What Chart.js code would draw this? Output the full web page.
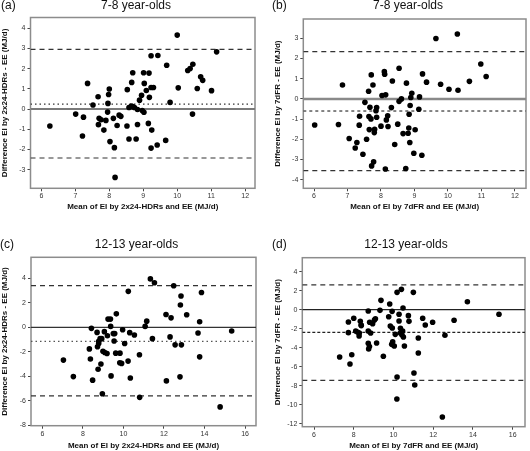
<!DOCTYPE html>
<html>
<head>
<meta charset="utf-8">
<script src="https://cdn.jsdelivr.net/npm/chart.js@4.4.1/dist/chart.umd.min.js"></script>
<style>
  html, body { margin: 0; padding: 0; background: #fff; }
  #wrap { position: relative; width: 530px; height: 451px; }
  canvas { position: absolute; }
</style>
</head>
<body>
<div id="wrap">
  <canvas id="chartA" width="265" height="225" style="left:0;top:0;width:265px;height:225px"></canvas>
  <canvas id="chartB" width="265" height="225" style="left:265px;top:0;width:265px;height:225px"></canvas>
  <canvas id="chartC" width="265" height="226" style="left:0;top:225px;width:265px;height:226px"></canvas>
  <canvas id="chartD" width="265" height="226" style="left:265px;top:225px;width:265px;height:226px"></canvas>
</div>
<script>
// ===== DATA =====
// (a) 7-8 year-olds, 2x24-HDRs
const aMean = [6.25,7.01,7.24,7.21,7.36,7.52,7.67,7.70,7.68,7.76,
  7.84,7.90,7.95,7.96,7.98,8.00,8.02,8.12,8.15,8.17,
  8.23,8.29,8.34,8.52,8.53,8.58,8.58,8.65,8.66,8.69,
  8.69,8.74,8.79,8.83,8.83,8.89,8.95,8.97,9.01,9.02,
  9.03,9.09,9.15,9.17,9.18,9.23,9.23,9.23,9.25,9.30,
  9.41,9.43,9.66,9.69,9.79,10.00,10.03,10.31,10.38,10.45,
  10.46,10.59,10.69,10.75,11.01,11.16];
const aDiff = [-0.84,-0.25,-0.40,-1.33,1.27,0.20,0.61,-0.46,-0.77,-0.53,
  -1.04,-0.56,-0.15,0.28,0.72,0.99,-1.61,-0.46,-1.91,-3.38,
  -0.81,-0.30,-0.36,-0.84,0.96,-1.48,0.08,0.15,1.32,1.80,
  0.12,0.08,-1.48,-0.76,-0.02,0.44,0.68,-0.07,1.80,-0.16,
  1.27,0.92,-0.71,1.78,0.58,-1.93,1.07,2.64,-1.04,1.07,
  -1.78,2.65,-1.55,2.17,0.33,3.66,1.05,1.91,2.01,-0.25,
  2.22,1.02,1.60,1.42,0.91,2.83];
const aLimits = [2.95, 0.24, -2.42];   // upper LoA, mean, lower LoA
const aXTicks = [6, 7, 8, 9, 10, 11, 12];
const aYTicks = [-3, -2, -1, 0, 1, 2, 3, 4];

// (b) 7-8 year-olds, 7dFR
const bMean = [6.02,6.73,6.85,7.05,7.28,7.23,7.36,7.35,7.46,7.52,
  7.57,7.63,7.64,7.67,7.65,7.70,7.71,7.72,7.76,7.78,
  7.81,7.80,7.85,7.87,7.87,8.00,8.03,8.10,8.11,8.13,
  8.14,8.16,8.20,8.21,8.31,8.34,8.41,8.50,8.54,8.54,
  8.61,8.66,8.74,8.76,8.81,8.83,8.84,8.86,8.87,8.89,
  8.92,8.98,9.02,9.13,9.15,9.22,9.24,9.36,9.64,9.78,
  10.03,10.28,10.30,10.64,10.98,11.14];
const bDiff = [-1.29,-1.27,0.69,-1.96,-2.16,-2.43,-0.86,-1.30,-2.74,-0.17,
  -2.00,0.38,-0.87,-0.41,-1.52,-0.99,1.19,-3.32,0.69,-3.12,
  -1.50,-1.67,-0.59,-0.43,-0.91,-1.35,0.17,1.35,1.22,-3.47,
  0.20,-1.04,-0.84,-1.37,-0.43,0.89,-2.26,-1.25,1.52,-0.12,
  0.00,-1.72,-3.45,0.78,-1.70,-1.44,-0.76,-2.16,-0.33,0.07,
  0.28,-2.69,-1.53,-0.51,0.10,-2.79,1.24,0.83,2.99,0.73,
  0.48,3.22,0.43,0.87,1.73,1.11];
const bLimits = [2.34, -0.60, -3.55];
const bXTicks = [6, 7, 8, 9, 10, 11, 12];
const bYTicks = [-4, -3, -2, -1, 0, 1, 2, 3];

// (c) 12-13 year-olds, 2x24-HDRs
const cMean = [7.04,7.53,8.32,8.37,8.42,8.48,8.70,8.72,8.75,8.78,
  8.78,8.85,8.89,8.93,8.96,8.99,9.06,9.08,9.19,9.21,
  9.24,9.36,9.37,9.39,9.50,9.54,9.57,9.62,9.65,9.82,
  9.83,9.91,9.96,10.06,10.24,10.23,10.31,10.34,10.54,10.79,
  10.80,11.07,11.15,11.33,11.43,11.53,12.10,12.12,12.30,12.35,
  12.48,12.55,12.79,12.81,12.84,12.86,13.12,13.68,13.76,13.76,
  13.85,14.77,15.34];
const cDiff = [-2.68,-4.03,-1.76,-2.59,-0.08,-4.32,-0.41,-1.59,-3.43,-1.32,
  -1.14,-0.92,-3.00,-0.92,-5.43,-1.95,-0.35,-2.05,-2.14,-0.68,
  0.68,0.68,0.08,-3.97,-0.51,-1.11,-0.51,-2.11,1.11,-2.89,
  -2.11,-2.95,-0.19,-1.32,2.95,-2.76,-0.43,-4.14,-0.62,-2.24,
  -5.73,0.08,0.51,3.97,-0.92,3.65,1.05,-4.38,-0.78,0.78,
  3.41,-1.43,-4.05,1.84,2.57,-1.43,1.03,-0.46,0.46,-2.41,
  2.86,-6.51,-0.30];
const cLimits = [3.42, -1.14, -5.60];
const cXTicks = [6, 8, 10, 12, 14, 16];
const cYTicks = [-8, -6, -4, -2, 0, 2, 4];

// (d) 12-13 year-olds, 7dFR
const dMean = [7.29,7.73,7.73,7.81,7.90,8.00,8.10,8.20,8.27,8.28,
  8.33,8.37,8.38,8.73,8.73,8.73,8.75,8.79,8.80,8.85,
  8.95,9.04,9.09,9.15,9.32,9.37,9.49,9.76,9.81,9.84,
  9.91,9.93,9.94,9.96,10.04,10.09,10.18,10.18,10.17,10.28,
  10.28,10.35,10.35,10.40,10.43,10.46,10.48,10.50,10.55,10.75,
  10.78,11.00,11.03,11.07,11.25,11.25,11.47,11.60,11.97,12.59,
  12.46,13.05,13.72,15.31];
const dDiff = [-4.98,-1.30,-2.42,-5.72,-4.74,-0.91,-2.25,-2.39,-2.77,-2.46,
  -1.23,-1.61,-1.68,-0.14,-2.25,-3.54,-4.14,-3.89,-1.33,-2.46,
  -1.47,-1.09,-0.95,-3.51,-0.07,0.98,-4.91,-0.74,0.60,-1.72,
  -3.65,-0.18,-1.93,-3.37,-3.82,-2.60,1.82,-7.09,-9.40,-1.19,
  -0.49,-2.46,-1.96,2.14,-2.67,-2.25,0.18,-2.88,-3.82,-0.63,
  -1.23,1.82,-6.67,-7.93,-2.98,-4.56,-0.91,-1.61,-1.33,-2.70,
  -11.30,-1.12,0.84,-0.49];
const dLimits = [2.60, -2.40, -7.45];
const dXTicks = [6, 8, 10, 12, 14, 16];
const dYTicks = [-12, -10, -8, -6, -4, -2, 0, 2, 4];

// ===== GLOBAL DEFAULTS =====
Chart.defaults.font.family = 'Arial, "Liberation Sans", sans-serif';
Chart.defaults.color = '#333';

// frame box + panel letter + panel title
const panelDeco = {
  id: 'panelDeco',
  beforeDatasetsDraw(chart, args, opts) {
    const { ctx, chartArea: a } = chart;
    ctx.save();
    ctx.strokeStyle = '#8c8c8c';
    ctx.lineWidth = 1.5;
    ctx.strokeRect(a.left, a.top, a.right - a.left, a.bottom - a.top);
    ctx.restore();
  },
  afterDraw(chart, args, opts) {
    const ctx = chart.ctx;
    ctx.save();
    ctx.fillStyle = '#111';
    ctx.font = '12px Arial, "Liberation Sans", sans-serif';
    ctx.textBaseline = 'middle';
    ctx.textAlign = 'left';
    ctx.fillText(opts.letter, opts.letterX, opts.textY);
    ctx.textAlign = 'center';
    ctx.fillText(opts.title, opts.titleX, opts.textY);
    ctx.restore();
  }
};

// horizontal reference line as a 2-point line dataset
function hLine(y, x0, x1, style) {
  return Object.assign({
    type: 'line',
    data: [{ x: x0, y: y }, { x: x1, y: y }],
    pointRadius: 0,
    fill: false,
    tension: 0
  }, style);
}

function makePanel(id, p) {
  const pts = p.mean.map((m, i) => ({ x: m, y: p.diff[i] }));
  const [x0, x1] = p.xRange;
  const dash = { borderColor: '#333', borderWidth: 1.2, borderDash: [5, 4] };

  return new Chart(document.getElementById(id), {
    type: 'scatter',
    data: {
      datasets: [
        { data: pts, backgroundColor: '#000', borderWidth: 0, pointRadius: 2.8 },
        hLine(p.limits[0], x0, x1, dash),
        hLine(p.limits[1], x0, x1, p.meanStyle),
        hLine(p.limits[2], x0, x1, dash),
        hLine(0, x0, x1, p.zeroStyle)
      ]
    },
    options: {
      responsive: false,
      animation: false,
      events: [],
      layout: { padding: p.pad },
      plugins: {
        legend: { display: false },
        tooltip: { enabled: false },
        panelDeco: p.deco
      },
      scales: {
        x: {
          type: 'linear',
          min: x0, max: x1,
          afterBuildTicks: s => { s.ticks = p.xTicks.map(v => ({ value: v })); },
          afterFit: s => { s.height = p.xAxisH; },
          grid: { drawOnChartArea: false, drawTicks: true, tickLength: 3, color: '#444' },
          border: { display: false },
          ticks: { padding: 1, font: { size: 7 }, color: '#333', maxRotation: 0, autoSkip: false, callback: v => String(v) },
          title: { display: true, text: p.xTitle, font: { size: 8, weight: 'bold' }, color: '#111', padding: 0 }
        },
        y: {
          type: 'linear',
          min: p.yRange[0], max: p.yRange[1],
          afterBuildTicks: s => { s.ticks = p.yTicks.map(v => ({ value: v })); },
          afterFit: s => { s.width = p.yAxisW; },
          grid: { drawOnChartArea: false, drawTicks: true, tickLength: 3, color: '#444' },
          border: { display: false },
          ticks: { padding: 2, font: { size: 7 }, color: '#333', autoSkip: false, callback: v => String(v) },
          title: { display: true, text: p.yTitle, font: { size: 8, weight: 'bold' }, color: '#111', padding: 0 }
        }
      }
    },
    plugins: [panelDeco]
  });
}

makePanel('chartA', {
  mean: aMean, diff: aDiff, limits: aLimits, xTicks: aXTicks, yTicks: aYTicks,
  xRange: [5.68, 12.29], yRange: [-3.92, 4.53],
  xTitle: 'Mean of EI by 2x24-HDRs and EE (MJ/d)',
  yTitle: 'Difference EI by 2x24-HDRs - EE (MJ/d)',
  pad: { left: 0, right: 10, top: 17.5, bottom: 13 },
  xAxisH: 23.7, yAxisW: 30.5,
  meanStyle: { borderColor: '#333', borderWidth: 1.3, borderDash: [1.5, 3] },
  zeroStyle: { borderColor: '#7a7a7a', borderWidth: 2 },
  deco: { letter: '(a)', letterX: 1, title: '7-8 year-olds', titleX: 136, textY: 6 }
});

makePanel('chartB', {
  mean: bMean, diff: bDiff, limits: bLimits, xTicks: bXTicks, yTicks: bYTicks,
  xRange: [5.68, 12.33], yRange: [-4.43, 3.96],
  xTitle: 'Mean of EI by 7dFR and EE (MJ/d)',
  yTitle: 'Difference EI by 7dFR - EE (MJ/d)',
  pad: { left: 8, right: 3.3, top: 19, bottom: 13.5 },
  xAxisH: 23.2, yAxisW: 30.3,
  meanStyle: { borderColor: '#333', borderWidth: 1.2, borderDash: [3, 3] },
  zeroStyle: { borderColor: '#8a8a8a', borderWidth: 2.5 },
  deco: { letter: '(b)', letterX: 7, title: '7-8 year-olds', titleX: 143, textY: 6 }
});

makePanel('chartC', {
  mean: cMean, diff: cDiff, limits: cLimits, xTicks: cXTicks, yTicks: cYTicks,
  xRange: [5.44, 16.54], yRange: [-8.05, 5.74],
  xTitle: 'Mean of EI by 2x24-HDRs and EE (MJ/d)',
  yTitle: 'Difference EI by 2x24-HDRs - EE (MJ/d)',
  pad: { left: 0, right: 9, top: 32.3, bottom: 0.5 },
  xAxisH: 24.8, yAxisW: 31,
  meanStyle: { borderColor: '#555', borderWidth: 1.3, borderDash: [1.5, 3] },
  zeroStyle: { borderColor: '#333', borderWidth: 1.3 },
  deco: { letter: '(c)', letterX: 0, title: '12-13 year-olds', titleX: 136.5, textY: 19.3 }
});

makePanel('chartD', {
  mean: dMean, diff: dDiff, limits: dLimits, xTicks: dXTicks, yTicks: dYTicks,
  xRange: [5.41, 16.62], yRange: [-12.32, 5.47],
  xTitle: 'Mean of EI by 7dFR and EE (MJ/d)',
  yTitle: 'Difference EI by 7dFR - EE (MJ/d)',
  pad: { left: 8, right: 5, top: 32.7, bottom: 0.7 },
  xAxisH: 23.6, yAxisW: 29.3,
  meanStyle: { borderColor: '#222', borderWidth: 1.2, borderDash: [3, 2] },
  zeroStyle: { borderColor: '#222', borderWidth: 1.3 },
  deco: { letter: '(d)', letterX: 7, title: '12-13 year-olds', titleX: 141, textY: 19.3 }
});
</script>
</body>
</html>
